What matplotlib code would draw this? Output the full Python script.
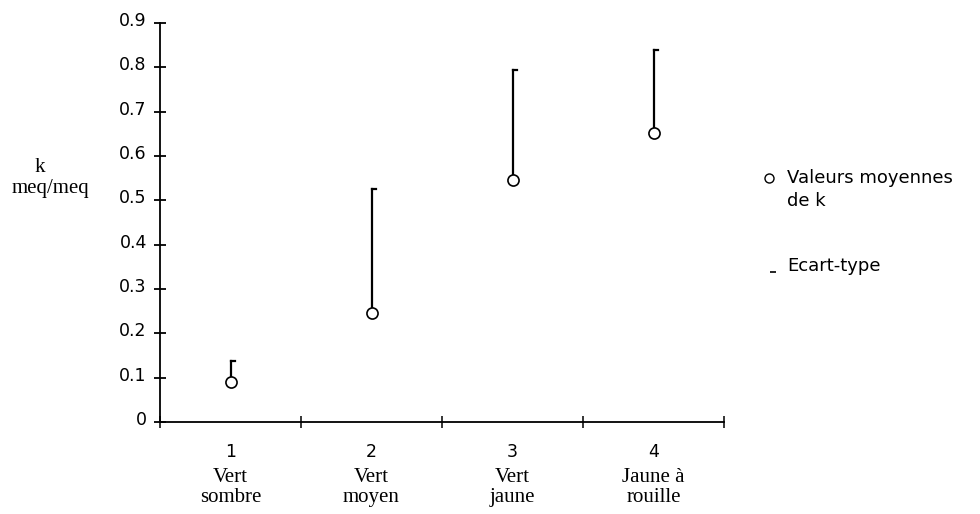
import matplotlib
matplotlib.use("Agg")
import matplotlib.pyplot as plt
import matplotlib.transforms as mtransforms
from matplotlib.lines import Line2D

# mean k per colour class and upper end of the standard deviation
classes = [1, 2, 3, 4]
class_names = ["Vert\nsombre", "Vert\nmoyen", "Vert\njaune", "Jaune à\nrouille"]
k_mean = [0.09, 0.245, 0.545, 0.652]
k_upper = [0.137, 0.525, 0.795, 0.838]
y_ticks = [0, 0.1, 0.2, 0.3, 0.4, 0.5, 0.6, 0.7, 0.8, 0.9]

sans = "DejaVu Sans"
serif = "Liberation Serif"

fig = plt.figure(figsize=(9.8, 5.14), dpi=100)
ax = fig.add_axes([160 / 980, 1 - 422 / 514, 564 / 980, 399 / 514])

# vertical std bars with a small cap to the right
cap = 0.035
for x, m, t in zip(classes, k_mean, k_upper):
    ax.plot([x, x], [m, t], color="black", lw=1.6, zorder=2)
    ax.plot([x, x + cap], [t, t], color="black", lw=1.6, zorder=2)
ax.plot(classes, k_mean, "o", ms=8, mfc="white", mec="black", mew=1.2,
        ls="none", zorder=3)

ax.set_xlim(0.5, 4.5)
ax.set_ylim(0, 0.9)
for s in ["top", "right"]:
    ax.spines[s].set_visible(False)
for s in ["left", "bottom"]:
    ax.spines[s].set_linewidth(1.3)

ax.set_yticks(y_ticks)
ax.set_yticklabels([f"{v:g}" for v in y_ticks], fontfamily=sans, fontsize=12.5)
ax.tick_params(axis="y", direction="inout", length=9, width=1.3, pad=5)
# labels sit a little above their ticks
shift = mtransforms.ScaledTranslation(0, 4 / 100, fig.dpi_scale_trans)
for lab in ax.get_yticklabels():
    lab.set_transform(lab.get_transform() + shift)

ax.set_xticks(classes)
ax.set_xticklabels([str(c) for c in classes], fontfamily=sans, fontsize=12.5)
ax.set_xticks([0.5, 1.5, 2.5, 3.5, 4.5], minor=True)
ax.tick_params(axis="x", which="major", length=0, pad=15)
ax.tick_params(axis="x", which="minor", direction="inout", length=9, width=1.1)

for x, name in zip(classes, class_names):
    ax.text(x, -0.115, name, transform=ax.get_xaxis_transform(), ha="center",
            va="top", fontfamily=serif, fontsize=15, linespacing=1.1)

# y axis title
fig.text(40 / 980, 1 - 168 / 514, "k", ha="center", va="center",
         fontfamily=serif, fontsize=15)
fig.text(50 / 980, 1 - 188 / 514, "meq/meq", ha="center", va="center",
         fontfamily=serif, fontsize=15)

# legend
fig.add_artist(Line2D([769 / 980], [1 - 178 / 514], marker="o", ms=6.5,
                      mfc="white", mec="black", mew=1.0, ls="none"))
fig.text(787 / 980, 1 - 178 / 514, "Valeurs moyennes", ha="left",
         va="center", fontfamily=sans, fontsize=13)
fig.text(787 / 980, 1 - 201 / 514, "de k", ha="left", va="center",
         fontfamily=sans, fontsize=13)
fig.add_artist(Line2D([773 / 980], [1 - 272 / 514], marker="_", ms=4,
                      mec="black", mew=1.2, ls="none"))
fig.text(787 / 980, 1 - 266 / 514, "Ecart-type", ha="left", va="center",
         fontfamily=sans, fontsize=13)

fig.savefig("out.png", dpi=100, facecolor="white")
